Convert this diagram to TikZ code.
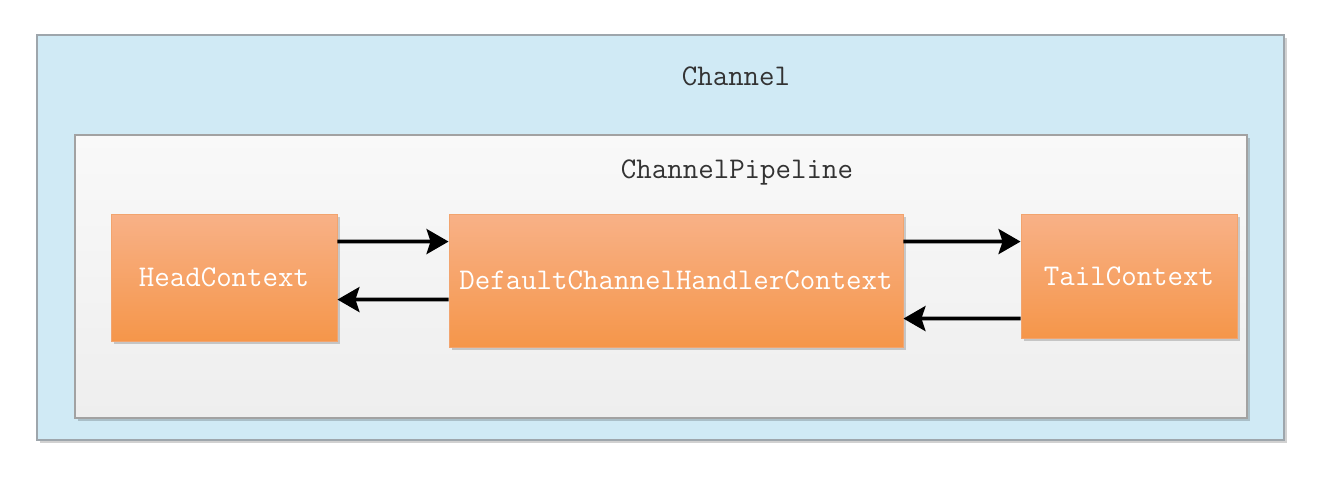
\documentclass[tikz,border=0pt]{standalone}
\usepackage{tikz}
\usetikzlibrary{arrows.meta,shadows}
\definecolor{chCol}{HTML}{D0EAF5}
\definecolor{chEdge}{HTML}{9EA6AC}
\definecolor{plTop}{HTML}{F9F9F9}
\definecolor{plBot}{HTML}{EEEEEE}
\definecolor{plEdge}{HTML}{A2A2A2}
\definecolor{ctxTop}{HTML}{F8B187}
\definecolor{ctxBot}{HTML}{F5964A}
\definecolor{ctxEdge}{HTML}{F2A46E}
\definecolor{txtCol}{HTML}{333333}
\tikzset{
  shade/.style={drop shadow={shadow xshift=0.06cm, shadow yshift=-0.06cm, opacity=0.18, fill=black}},
  chbox/.style n args={2}{draw=chEdge, fill=chCol, line width=0.7pt, minimum width=#1, minimum height=#2,
        inner sep=0pt, shade},
  plbox/.style n args={2}{draw=plEdge, top color=plTop, bottom color=plBot, line width=0.7pt,
        minimum width=#1, minimum height=#2, inner sep=0pt, shade},
  ctx/.style n args={2}{draw=ctxEdge, top color=ctxTop, bottom color=ctxBot, line width=0.5pt,
        minimum width=#1, minimum height=#2, inner sep=0pt, text=white,
        font=\ttfamily\fontsize{17.1}{20}\selectfont, shade},
  lbl/.style={text=txtCol, font=\ttfamily\fontsize{17.1}{20}\selectfont, inner sep=0pt},
  flow/.style={-{Stealth[length=0.44cm, width=0.50cm, inset=0.08cm]}, line width=2.1pt, black},
}

\begin{document}
\begin{tikzpicture}
  \useasboundingbox[fill=white] (0,0) rectangle (26.68,-9.6);
  \node[chbox={24.94cm}{8.10cm}] (ch) at (13.21,-4.75){};
  \node[lbl] (chl) at (14.72,-1.52){Channel};
  \node[plbox={23.44cm}{5.66cm}] (pl) at (13.22,-5.53){};
  \node[lbl] (pll) at (14.74,-3.44){ChannelPipeline};
  \node[ctx={4.52cm}{2.54cm}] (hd) at (4.48,-5.55){HeadContext};
  \node[ctx={9.08cm}{2.66cm}] (dc) at (13.52,-5.61){DefaultChannelHandlerContext};
  \node[ctx={4.32cm}{2.48cm}] (tl) at (22.58,-5.52){TailContext};
  % inbound / outbound
  \draw[flow] ([yshift=-0.56cm]hd.north east) -- ([yshift=-0.56cm]dc.north west);
  \draw[flow] ([yshift=-1.72cm]dc.north west) -- ([yshift=-1.72cm]hd.north east);
  \draw[flow] ([yshift=-0.56cm]dc.north east) -- ([yshift=-0.56cm]tl.north west);
  \draw[flow] ([yshift=-2.10cm]tl.north west) -- ([yshift=-2.10cm]dc.north east);
\end{tikzpicture}
\end{document}
